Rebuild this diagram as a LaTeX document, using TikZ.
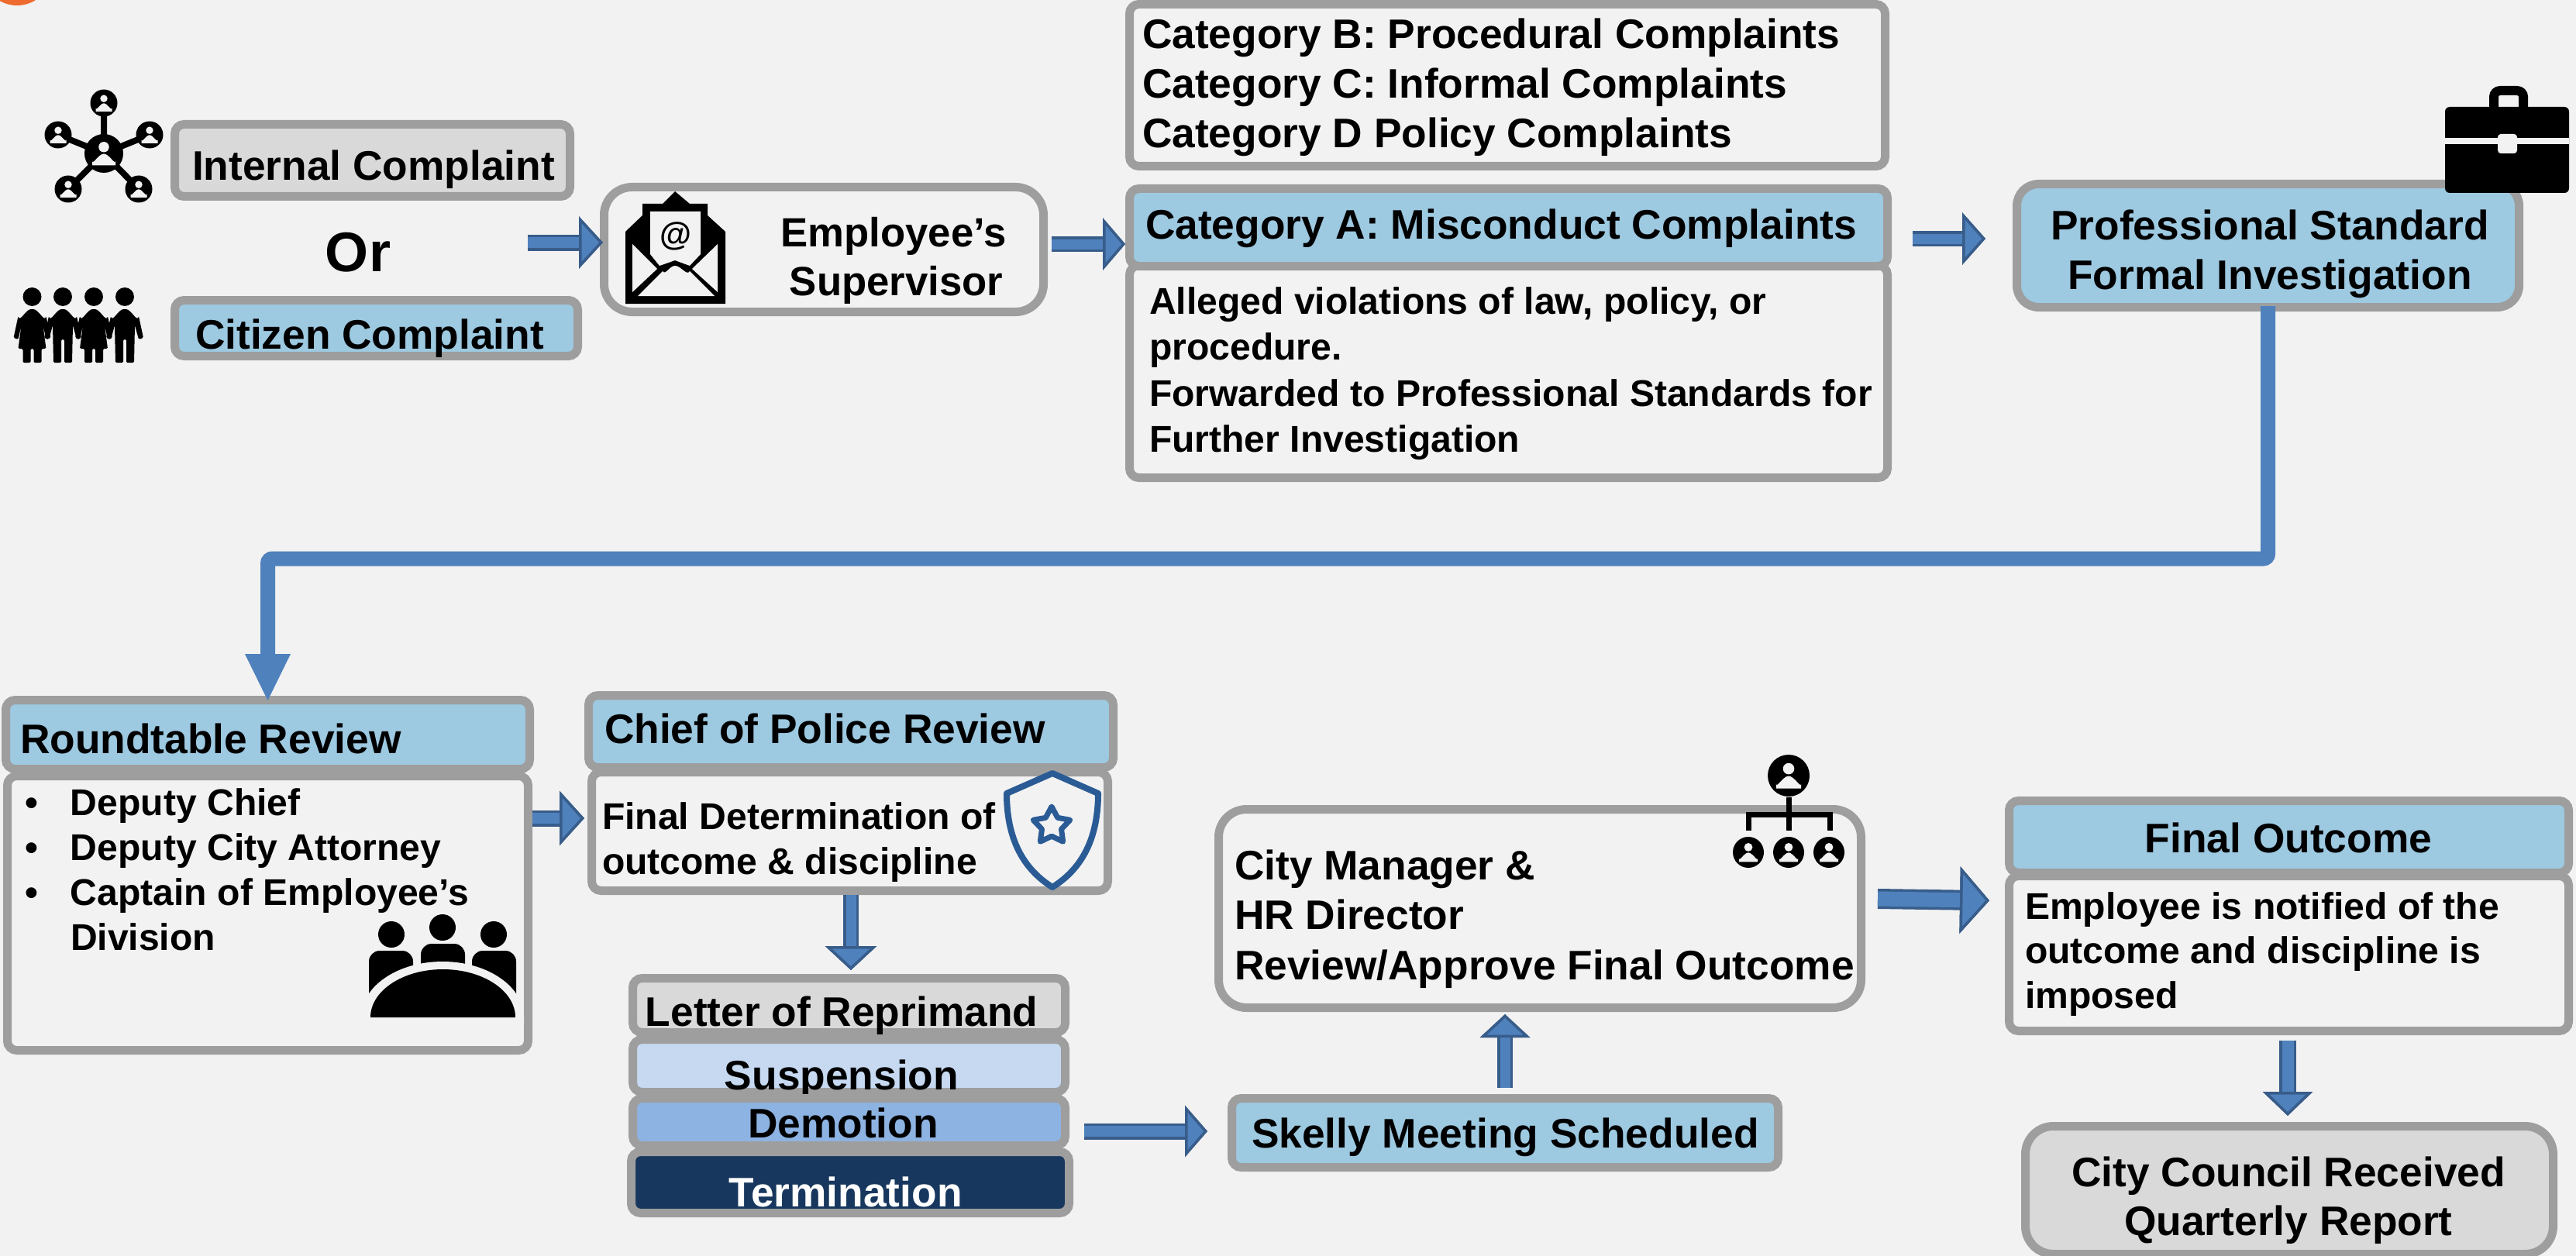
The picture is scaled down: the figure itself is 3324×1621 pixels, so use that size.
\documentclass[tikz,border=0pt]{standalone}
\usepackage{fontspec}
\setmainfont{Liberation Sans}
\usetikzlibrary{arrows.meta,calc,shapes.geometric}
\definecolor{bgc}{HTML}{F2F2F2}
\definecolor{edgec}{HTML}{9E9E9E}
\definecolor{lblue}{HTML}{9DC9E1}
\definecolor{lgray}{HTML}{D9D9D9}
\definecolor{pale}{HTML}{C6D9F1}
\definecolor{midb}{HTML}{8DB3E2}
\definecolor{navy}{HTML}{17375E}
\definecolor{arrowfill}{HTML}{4F81BD}
\definecolor{arrowedge}{HTML}{385D8A}
\definecolor{shieldc}{HTML}{2A5B95}
\definecolor{orangec}{HTML}{ED6B2F}
\tikzset{
  flowbox/.style={draw=edgec,line width=11pt,inner sep=0pt,outer sep=5.5pt,rounded corners=12pt,fill=bgc,font=\bfseries},
  bluebox/.style={flowbox,fill=lblue},
  graybox/.style={flowbox,fill=lgray},
  biground/.style={rounded corners=36pt},
  flow/.style n args={3}{draw=arrowfill,line width={(#1-7)*1pt},preaction={draw=arrowedge,line width=#1pt},
    -{Triangle[length=#3pt,width=#2pt,fill=arrowfill,color=arrowedge,line width=3.5pt]}},
  mainflow/.style={draw=arrowfill,line width=19pt,rounded corners=6pt,
    -{Triangle[length=60pt,width=59pt,fill=arrowfill,color=arrowfill,line width=0pt]}},
  pics/userdot/.style={code={
    \fill[black] (0,0) circle ({#1});
    \fill[bgc] (0,{-.33*#1}) circle ({.27*#1});
    \fill[bgc] ({-.6*#1},{.62*#1}) -- ({-.6*#1},{.38*#1}) to[out=-90,in=180] (0,{.02*#1}) to[out=0,in=-90] ({.6*#1},{.38*#1}) -- ({.6*#1},{.62*#1}) -- cycle;
  }},
  pics/womanfig/.style={code={
    \fill[black] (0,383) circle (12);
    \fill[black,rounded corners=1.5pt] (-24,436) -- (-18,408) to[out=-70,in=180] (0,399) to[out=0,in=-110] (18,408) -- (24,436) -- (18,438) -- (14,420) -- (18,450) -- (12,450) -- (12,468) -- (2,468) -- (2,450) -- (-2,450) -- (-2,468) -- (-12,468) -- (-12,450) -- (-18,450) -- (-14,420) -- (-18,438) -- cycle;
  }},
  pics/manfig/.style={code={
    \fill[black] (0,383) circle (12);
    \fill[black,rounded corners=1.5pt] (-24,436) -- (-18,408) to[out=-70,in=180] (0,399) to[out=0,in=-110] (18,408) -- (24,436) -- (18,438) -- (13,420) -- (12,468) -- (2,468) -- (2,438) -- (-2,438) -- (-2,468) -- (-12,468) -- (-13,420) -- (-18,438) -- cycle;
  }},
}
\newcommand\fs[2]{\fontsize{#1}{#2}\selectfont}
\newcommand\bx[7]{\pgfmathsetmacro\cxx{(#3+#5)/2}\pgfmathsetmacro\cyy{(#4+#6)/2}\pgfmathsetmacro\wdd{#5-#3-11}\pgfmathsetmacro\htt{#6-#4-11}\node[#1,minimum width=\wdd pt,minimum height=\htt pt] (#2) at (\cxx,\cyy) {#7};}
\newcommand\placetext[4]{\pgfmathsetmacro\dxx{#1-\cxx}\pgfmathsetmacro\dyy{\cyy-#2-2}\makebox[0pt][l]{\hspace*{\dxx pt}\raisebox{\dyy pt}[0pt][0pt]{\parbox[t]{#3pt}{#4}}}}
\newcommand\bul{\leavevmode\llap{\textbullet\hspace*{42pt}}}
\begin{document}
\begin{tikzpicture}[x=1pt,y=-1pt]
\useasboundingbox (0,0) rectangle (3324,1621);
\fill[bgc] (0,0) rectangle (3324,1621);
\fill[orangec] (22,-38) circle (45);

% icons: network
\draw[black,line width=8pt] (134,198) -- (134,133) (134,198) -- (75,174) (134,198) -- (193,174) (134,198) -- (88,244) (134,198) -- (179,244);
\pic at (134,198) {userdot=25};
\pic at (134,133) {userdot=17.5};
\pic at (75,174) {userdot=17.5};
\pic at (193,174) {userdot=17.5};
\pic at (88,244) {userdot=17.5};
\pic at (179,244) {userdot=17.5};
% icons: citizens
\pic at (41.5,0) {womanfig};
\pic at (81,0) {manfig};
\pic at (121,0) {womanfig};
\pic at (161,0) {manfig};

\bx{graybox}{internal}{220}{155}{741}{259}{\placetext{248}{231}{600}{\fs{53.3}{64}Internal Complaint}}
\bx{bluebox}{citizen}{220}{382}{751}{465}{\placetext{252}{448}{600}{\fs{53.3}{64}Citizen Complaint}}
\node[font=\bfseries\fs{72}{80},inner sep=0pt] (ortext) at (462,326) {Or};
\bx{flowbox,biground}{sup}{774}{236}{1352}{408}{\placetext{853}{316}{600}{\centering\fs{52.7}{63}Employee’s\\\hspace*{7pt}Supervisor}}

% envelope
\fill[black] (807,299) -- (829,278) -- (829,263) -- (855,263) -- (871,247) -- (890,263) -- (913,263) -- (913,278) -- (936,299) -- (936,392) -- (807,392) -- cycle;
\fill[bgc] (839,273) -- (904,273) -- (904,328) -- (890,343) -- (871,336) -- (851,343) -- (839,328) -- cycle;
\fill[bgc] (816,315) -- (848,347) -- (816,377) -- cycle;
\fill[bgc] (926,315) -- (893,347) -- (926,377) -- cycle;
\fill[bgc] (823,382) -- (922,382) -- (890,350) to[out=-120,in=0] (871,343) to[out=180,in=-60] (855,350) -- cycle;
\node[font=\bfseries\fs{42}{42},inner sep=0pt] (atsign) at (872,305) {@};

\bx{flowbox}{catb}{1452}{0}{2438}{220}{\placetext{1474}{61}{950}{\raggedright\fs{53.3}{64}Category B: Procedural Complaints\\Category C: Informal Complaints\\Category D Policy Complaints}}
\bx{flowbox}{catabody}{1452}{337}{2441}{622}{\placetext{1483}{403}{950}{\raggedright\fs{48.1}{59.5}Alleged violations of law, policy, or\\procedure.\\Forwarded to Professional Standards for\\Further Investigation}}
\bx{bluebox}{cata}{1452}{238}{2441}{349}{\placetext{1478}{307}{950}{\raggedright\fs{53.3}{64}Category A: Misconduct Complaints}}
\bx{bluebox,rounded corners=28pt}{prof}{2597}{232}{3256}{402}{\placetext{2629}{307}{600}{\centering\fs{53.3}{64}Professional Standard\\Formal Investigation}}

% briefcase
\draw[black,line width=12pt,rounded corners=8pt] (3218,140) -- (3218,117) -- (3256,117) -- (3256,140);
\fill[black,rounded corners=6pt] (3155,138) rectangle (3315,249);
\fill[bgc] (3155,178) rectangle (3315,186);
\fill[bgc,rounded corners=4pt] (3223,173) rectangle (3248,198);

\bx{bluebox}{roundh}{2}{898}{689}{998}{\placetext{26}{970}{640}{\raggedright\fs{53.3}{64}Roundtable Review}}
\bx{flowbox}{roundb}{4}{996}{687}{1361}{\placetext{91}{1050}{580}{\raggedright\fs{48.1}{58.3}\bul Deputy Chief\\\bul Deputy City Attorney\\\bul Captain of Employee’s\\Division}}

% group icon
\fill[black] (505,1206) circle (17) (571,1197) circle (17) (637,1206) circle (17);
\fill[black,rounded corners=14pt] (476,1227) rectangle (533,1320);
\fill[black,rounded corners=14pt] (543,1218) rectangle (600,1320);
\fill[black,rounded corners=14pt] (609,1227) rectangle (666,1320);
\fill[bgc] (466,1322) -- (466,1313) arc[start angle=180,end angle=360,x radius=105,y radius=72] -- (676,1322) -- cycle;
\fill[black] (478,1313) arc[start angle=180,end angle=360,x radius=93.5,y radius=62] -- cycle;

\bx{flowbox}{chiefb}{758}{991}{1435}{1155}{\placetext{777}{1068}{560}{\raggedright\fs{48.1}{58}Final Determination of\\outcome \& discipline}}
\bx{bluebox}{chiefh}{754}{892}{1442}{996}{\placetext{780}{957}{640}{\raggedright\fs{53.3}{64}Chief of Police Review}}

% shield
\draw[shieldc,line width=8pt,line join=round] (1358,998) -- (1417,1024) .. controls (1417,1090) and (1390,1125) .. (1358,1145) .. controls (1326,1125) and (1299,1090) .. (1299,1024) -- cycle;
\node[star,star points=5,star point ratio=1.9,draw=shieldc,line width=7pt,line join=round,minimum size=50pt,inner sep=0pt] (shieldstar) at (1357,1066) {};

\bx{graybox}{letter}{811}{1257}{1380}{1338}{\placetext{786}{1322}{600}{\centering\fs{53.3}{64}Letter of Reprimand}}
\bx{flowbox,fill=pale}{susp}{811}{1336}{1380}{1415}{\placetext{786}{1404}{600}{\centering\fs{53.3}{64}Suspension}}
\bx{flowbox,fill=midb}{demo}{811}{1412}{1380}{1484}{\placetext{788}{1466}{600}{\centering\fs{53.3}{64}Demotion}}
\bx{flowbox,fill=navy,text=white}{term}{809}{1481}{1385}{1571}{\placetext{791}{1555}{600}{\centering\fs{53.3}{64}Termination}}
\bx{bluebox}{skelly}{1584}{1412}{2300}{1512}{\placetext{1615}{1479}{680}{\raggedright\fs{53.3}{64}Skelly Meeting Scheduled}}
\bx{flowbox,biground}{city}{1567}{1039}{2407}{1306}{\placetext{1593}{1133}{810}{\raggedright\fs{53.3}{64.5}City Manager \&\\HR Director\\Review/Approve Final Outcome}}

% org icon
\draw[black,line width=7pt] (2308,1029) -- (2308,1072) (2256,1072) -- (2256,1051) -- (2361,1051) -- (2361,1072);
\pic at (2308,1001) {userdot=27};
\pic at (2256,1100) {userdot=20};
\pic at (2308,1100) {userdot=20};
\pic at (2360,1100) {userdot=20};

\bx{flowbox}{finalb}{2587}{1125}{3320}{1336}{\placetext{2613}{1184}{700}{\raggedright\fs{48.1}{57.5}Employee is notified of the\\outcome and discipline is\\imposed}}
\bx{bluebox}{finalh}{2587}{1028}{3320}{1132}{\placetext{2653}{1098}{600}{\centering\fs{53.3}{64}Final Outcome}}
\bx{graybox,biground}{council}{2608}{1448}{3300}{1624}{\placetext{2653}{1529}{600}{\centering\fs{53.3}{63}City Council Received\\Quarterly Report}}

% connectors
\coordinate (a1) at (681,313);
\coordinate (a2) at (1357,315);
\coordinate (a3) at (2468,308);
\coordinate (a4) at (687,1056);
\coordinate (a5) at (1098,1155);
\coordinate (a6) at (1399,1460);
\coordinate (a7) at (1942,1404);
\coordinate (a8) at (2423,1160);
\coordinate (a9) at (2952,1343);
\coordinate (midline) at (1600,721);
\draw[flow={21}{67}{31},shorten >=-4pt] (a1) -- (a1 -| sup.west);
\draw[flow={20}{67}{29}] (a2) -- (a2 -| cata.west);
\draw[flow={20}{67}{30},shorten >=35pt] (a3) -- (a3 -| prof.west);
\draw[flow={21}{70}{32},shorten >=4pt] (a4) -- (a4 -| chiefb.west);
\draw[flow={20}{66}{31},shorten >=5pt] (a5) -- (a5 |- letter.north);
\draw[flow={21}{66}{29},shorten >=26pt] (a6) -- (a6 -| skelly.west);
\draw[flow={20}{64}{30},shorten >=3pt] (a7) -- (a7 |- city.south);
\draw[flow={26}{86}{38},shorten >=20pt] (a8) -- ([yshift=68pt]finalb.west);
\draw[flow={22}{64}{31},shorten >=8pt] (a9) -- (a9 |- council.north);
\draw[mainflow,shorten <=-7pt,shorten >=-6pt] (prof.south) |- (midline) -| (roundh.north);
\end{tikzpicture}
\end{document}
